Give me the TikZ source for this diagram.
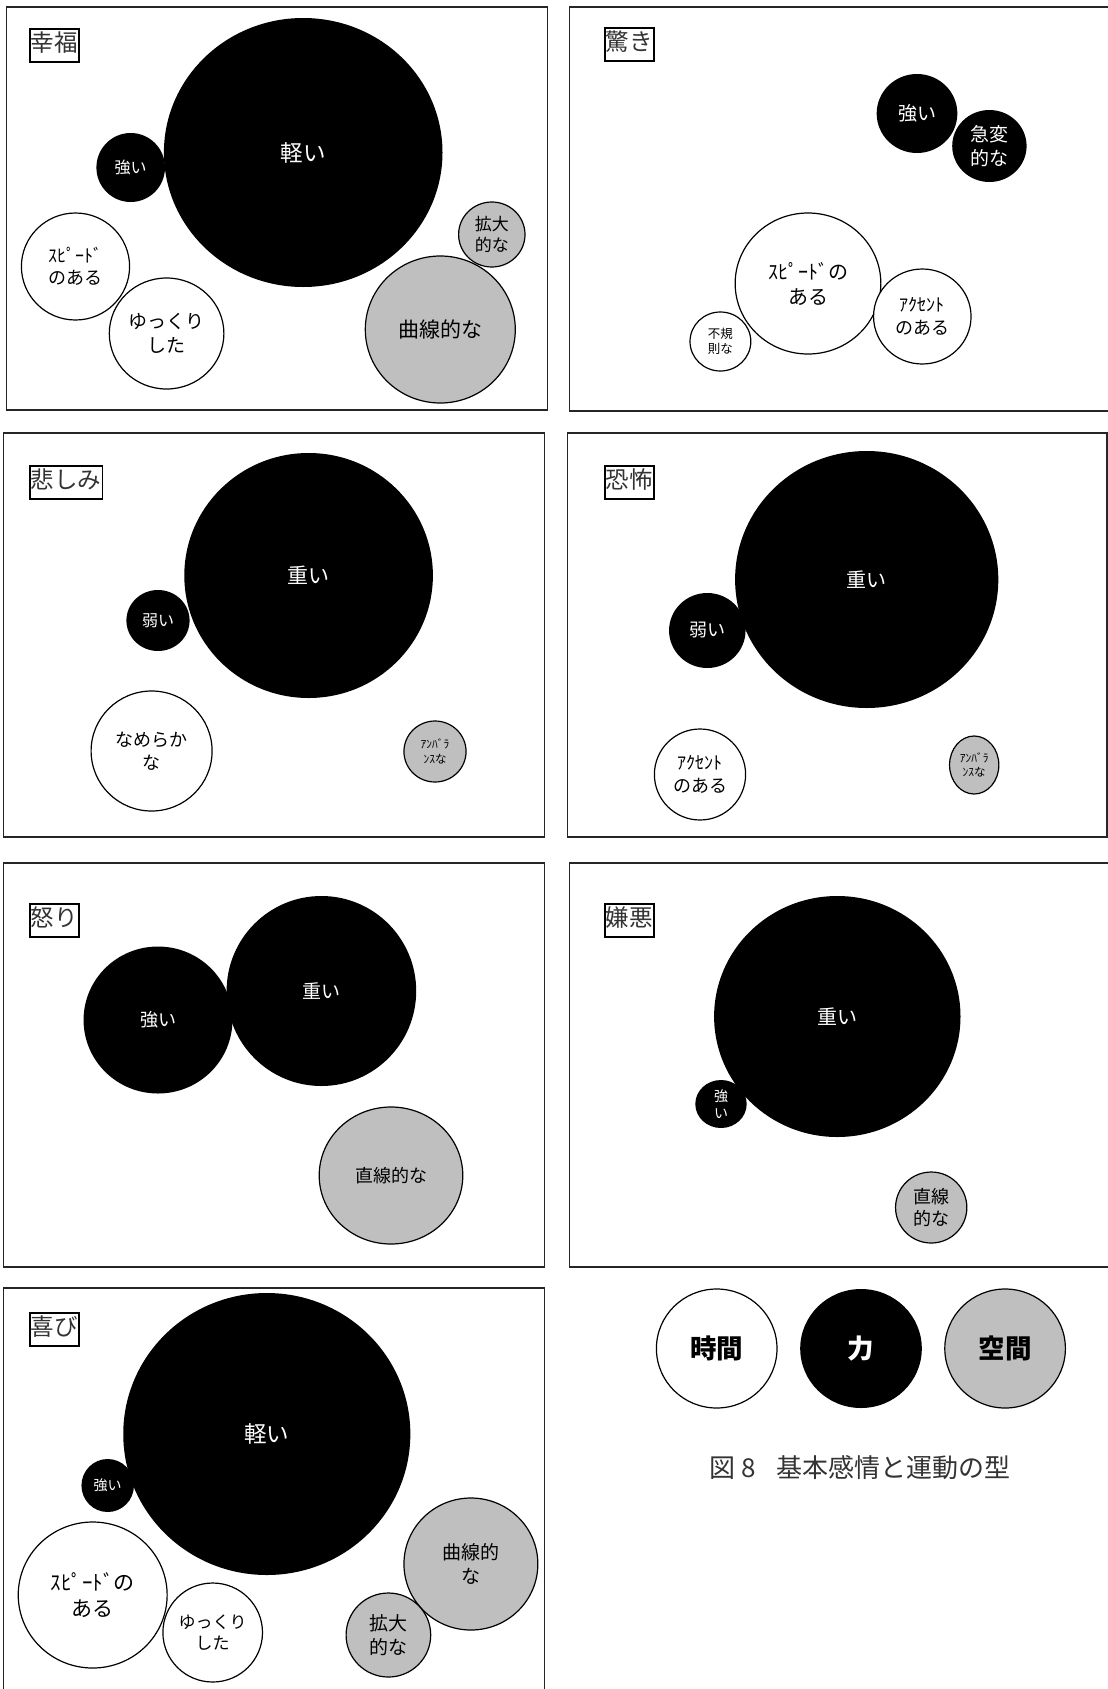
\documentclass[tikz,border=0pt]{standalone}
\usepackage{fontspec}
\setmainfont{Noto Sans CJK JP}
\usetikzlibrary{shapes.geometric}

\newcommand{\sz}[1]{\fontsize{#1}{\fpeval{1.25*#1}}\selectfont}

\begin{document}
\begin{tikzpicture}[
  x=1pt, y=-1pt,
  panel/.style={draw=black!85, line width=1.4pt},
  tag/.style={draw=black, line width=1.6pt, anchor=north west, inner xsep=1pt, inner ysep=6pt,
    text height=17pt, text depth=4pt, font=\sz{23.5}, text=black!80},
  wh/.style 2 args={minimum width=#1pt, minimum height=#2pt},
  bub/.style={ellipse, inner sep=0pt, align=center},
  forcebub/.style={bub, fill=black, text=white},
  timebub/.style={bub, draw=black, line width=1.2pt, fill=white, text=black},
  spacebub/.style={bub, draw=black, line width=1.2pt, fill=black!25, text=black}
]
\useasboundingbox (0,0) rectangle (1108,1689);

% frames, left column then right column
\draw[panel] (6.4,7) rectangle (547.5,410);
\draw[panel] (3.2,433) rectangle (544.3,837);
\draw[panel] (3.2,863) rectangle (544.3,1267);
\draw[panel] (3.2,1689) -- (3.2,1288) -- (544.3,1288) -- (544.3,1689);
\draw[panel] (1108,7) -- (569.4,7) -- (569.4,411) -- (1108,411);
\draw[panel] (567.3,433) rectangle (1107,837);
\draw[panel] (1108,863) -- (569.4,863) -- (569.4,1267) -- (1108,1267);

% 幸福
\node[tag] (t1) at (29,28) {幸福};
\node[forcebub, wh={278.6}{269}, font=\sz{22.5}] (light1) at (303.2,152.5) {軽い};
\node[forcebub, wh={68.6}{69}, font=\sz{16}]     (strong1) at (130.7,167.5) {強い};
\node[timebub, wh={108.2}{107}, font=\sz{18}]    (speed1) at (75.5,266.5) {ｽﾋﾟｰﾄﾞ\\のある};
\node[timebub, wh={114.6}{111}, font=\sz{19}]    (slow1) at (166.6,333.5) {ゆっくり\\した};
\node[spacebub, wh={66.4}{65}, font=\sz{17}]     (wide1) at (491.8,234.5) {拡大\\的な};
\node[spacebub, wh={150}{147}, font=\sz{21}]     (curve1) at (440.3,329.5) {曲線的な};

% 驚き
\node[tag] (t2) at (604,27) {驚き};
\node[forcebub, wh={80.7}{79}, font=\sz{19}]     (strong2) at (917,113.5) {強い};
\node[forcebub, wh={74.4}{72}, font=\sz{19}]     (sudden2) at (989.4,146) {急変\\的な};
\node[timebub, wh={145.7}{141}, font=\sz{20}]    (speed2) at (808,283.5) {ｽﾋﾟｰﾄﾞの\\ある};
\node[timebub, wh={97.5}{95}, font=\sz{18}]      (accent2) at (922.3,316.5) {ｱｸｾﾝﾄ\\のある};
\node[timebub, wh={60.8}{59}, font=\sz{12.5}]    (irreg2) at (720.4,341.5) {不規\\則な};

% 悲しみ
\node[tag] (t3) at (29,465) {悲しみ};
\node[forcebub, wh={248.6}{245}, font=\sz{21}]   (heavy3) at (308.6,575.5) {重い};
\node[forcebub, wh={63.2}{61}, font=\sz{16}]     (weak3) at (158,620.5) {弱い};
\node[timebub, wh={121}{120}, font=\sz{18}]      (smooth3) at (151.6,751) {なめらか\\な};
\node[spacebub, wh={62.1}{61}, font=\sz{11.5}]   (unbal3) at (435,751.5) {ｱﾝﾊﾞﾗ\\ﾝｽな};

% 恐怖
\node[tag] (t4) at (604,465) {恐怖};
\node[forcebub, wh={263.2}{257}, font=\sz{20}]   (heavy4) at (866.7,579.5) {重い};
\node[forcebub, wh={76.5}{75}, font=\sz{18}]     (weak4) at (707.3,630.5) {弱い};
\node[timebub, wh={91.2}{91}, font=\sz{18}]      (accent4) at (700,774.5) {ｱｸｾﾝﾄ\\のある};
\node[spacebub, wh={49.3}{58}, font=\sz{11.5}]   (unbal4) at (974.2,765) {ｱﾝﾊﾞﾗ\\ﾝｽな};

% 怒り
\node[tag] (t5) at (29,903) {怒り};
\node[forcebub, wh={148.9}{147}, font=\sz{18}]   (strong5) at (158,1020) {強い};
\node[forcebub, wh={189.6}{190}, font=\sz{19}]   (heavy5) at (321.4,991) {重い};
\node[spacebub, wh={143.6}{137}, font=\sz{18}]   (direct5) at (391,1175.5) {直線的な};

% 嫌悪
\node[tag] (t6) at (604,903) {嫌悪};
\node[forcebub, wh={246.4}{241}, font=\sz{20}]   (heavy6) at (837.3,1016.5) {重い};
\node[forcebub, wh={51.4}{48}, font=\sz{14}]     (strong6) at (721,1104) {強\\い};
\node[spacebub, wh={71.3}{71}, font=\sz{18}]     (direct6) at (931.2,1207.5) {直線\\的な};

% 喜び
\node[tag] (t7) at (29,1312) {喜び};
\node[forcebub, wh={287.1}{282}, font=\sz{22.5}] (light7) at (266.8,1434) {軽い};
\node[forcebub, wh={52.5}{53}, font=\sz{14}]     (strong7) at (107.7,1485.5) {強い};
\node[timebub, wh={148.9}{146}, font=\sz{21}]    (speed7) at (92.7,1595) {ｽﾋﾟｰﾄﾞの\\ある};
\node[timebub, wh={99.6}{99}, font=\sz{17}]      (slow7) at (212.7,1632.5) {ゆっくり\\した};
\node[spacebub, wh={133.9}{132}, font=\sz{19}]   (curve7) at (470.9,1564) {曲線的\\な};
\node[spacebub, wh={84.6}{84}, font=\sz{19}]     (wide7) at (388.4,1635) {拡大\\的な};

% key and caption
\node[timebub, wh={120.6}{119}, font=\sz{26.5}\bfseries]  (keytime) at (716.7,1348.5) {時間};
\node[forcebub, wh={121.6}{119}, font=\sz{26.5}\bfseries] (keyforce) at (861,1348.5) {力};
\node[spacebub, wh={120.6}{119}, font=\sz{26.5}\bfseries] (keyspace) at (1005.1,1348.5) {空間};
\node[font=\sz{26}, text=black!80] (cap) at (860,1468) {図 8\hspace{0.8em}基本感情と運動の型};

\end{tikzpicture}
\end{document}
